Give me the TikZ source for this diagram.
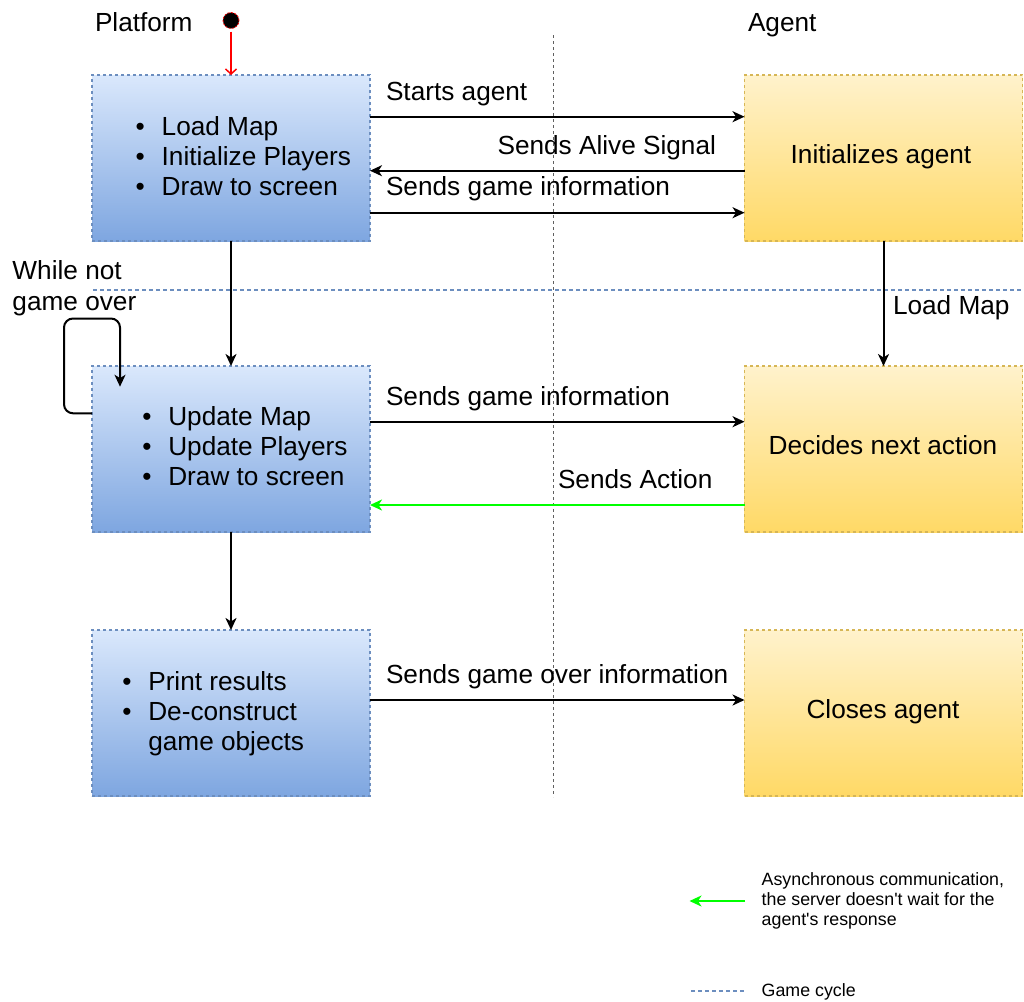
\documentclass[tikz,border=0pt]{standalone}
\usepackage{fontspec}
\setmainfont{Liberation Sans}
\usetikzlibrary{arrows.meta}

\definecolor{bluetop}{HTML}{DAE8FC}
\definecolor{bluebottom}{HTML}{7EA6E0}
\definecolor{blueline}{HTML}{6C8EBF}
\definecolor{yellowtop}{HTML}{FFF2CC}
\definecolor{yellowbottom}{HTML}{FFD966}
\definecolor{yellowline}{HTML}{D6B656}
\definecolor{asyncgreen}{HTML}{00FF00}
\definecolor{dividergray}{HTML}{606060}

\newcommand\mainsize{\fontsize{26.2}{30}\selectfont}
\newcommand\legendsize{\fontsize{17.8}{20}\selectfont}
\newcommand\bul{\makebox[26pt][l]{\textbullet}}
\newcommand\nobul{\makebox[26pt][l]{}}

\begin{document}
\begin{tikzpicture}[x=1pt,y=-1pt,
  every node/.style={inner sep=0pt, outer sep=0pt},
  boxbase/.style={line width=1.5pt, dash pattern=on 3pt off 3pt,
    minimum width=278pt, minimum height=166pt},
  platformbox/.style={boxbase, draw=blueline, top color=bluetop, bottom color=bluebottom},
  agentbox/.style={boxbase, draw=yellowline, top color=yellowtop, bottom color=yellowbottom},
  txt/.style={font=\mainsize, text=black},
  legendtxt/.style={font=\legendsize, text=black},
  tip/.style={-{Stealth[length=12pt,width=11pt,inset=3.5pt]}},
  msg/.style={line width=2pt, black, tip},
  async/.style={line width=2pt, asyncgreen, tip},
  cycleline/.style={line width=1.8pt, blueline, dash pattern=on 4pt off 3pt},
  divider/.style={line width=1.8pt, dividergray, dash pattern=on 3pt off 3pt}
]
\useasboundingbox (0,0) rectangle (1024,1001);

% column titles
\node[txt, anchor=base west] (ttlplatform) at (95,31.7) {Platform};
\node[txt, anchor=base west] (ttlagent) at (748,31.7) {Agent};

% column divider and game-cycle line
\coordinate (divtop) at (553.5,35);
\coordinate (divbot) at (553.5,797);
\draw[divider] (divtop) -- (divbot);
\coordinate (cycleleft) at (93,290);
\coordinate (cycleright) at (1022,290);
\draw[cycleline] (cycleleft) -- (cycleright);

% platform boxes
\node[platformbox] (p1) at (231,158) {};
\node[platformbox] (p2) at (231,449) {};
\node[platformbox] (p3) at (231,713) {};

% agent boxes
\node[agentbox] (a1) at (883.5,158) {};
\node[agentbox] (a2) at (883.5,449) {};
\node[agentbox] (a3) at (883.5,713) {};

% platform box contents
\node[txt, anchor=base west] (p1txt) at (135.7,135) {%
  \begin{tabular}[t]{@{}l@{}}\bul Load Map\\ \bul Initialize Players\\ \bul Draw to screen\end{tabular}};
\node[txt, anchor=base west] (p2txt) at (142.3,425.5) {%
  \begin{tabular}[t]{@{}l@{}}\bul Update Map\\ \bul Update Players\\ \bul Draw to screen\end{tabular}};
\node[txt, anchor=base west] (p3txt) at (122.3,690) {%
  \begin{tabular}[t]{@{}l@{}}\bul Print results\\ \bul De-construct\\ \nobul game objects\end{tabular}};

% agent box contents
\node[txt, anchor=base] (a1txt) at (881,163.3) {Initializes agent};
\node[txt, anchor=base] (a2txt) at (883,454.3) {Decides next action};
\node[txt, anchor=base] (a3txt) at (883,718.3) {Closes agent};

% start marker
\node[circle, fill=black, draw=red, line width=0.8pt, dash pattern=on 2pt off 1.5pt,
      minimum size=16pt] (start) at (231,20.5) {};
\draw[red, line width=1.5pt, -{Straight Barb[length=5pt,width=11pt]}, shorten <=3pt]
  (start.south) -- (p1.north);

% messages between platform and agent
\draw[msg] (p1.east |- 0,116.7) -- (a1.west |- 0,116.7);
\node[txt, anchor=base west] (lblstart) at (386,100.5) {Starts agent};

\draw[msg] (a1.west |- 0,170.7) -- (p1.east |- 0,170.7);
\node[txt, anchor=base east] (lblalive) at (716,154) {Sends Alive Signal};

\draw[msg] (p1.east |- 0,212.7) -- (a1.west |- 0,212.7);
\node[txt, anchor=base west] (lblinfoa) at (386,195.7) {Sends game information};

\draw[msg] (p2.east |- 0,421.7) -- (a2.west |- 0,421.7);
\node[txt, anchor=base west] (lblinfob) at (386,405) {Sends game information};

\draw[async] (a2.west |- 0,505) -- (p2.east |- 0,505);
\node[txt, anchor=base west] (lblaction) at (558,488) {Sends Action};

\draw[msg] (p3.east |- 0,700) -- (a3.west |- 0,700);
\node[txt, anchor=base west] (lblover) at (386,683.3) {Sends game over information};

% flow within each column
\draw[msg] (p1.south) -- (p2.north);
\draw[msg] (p2.south) -- (p3.north);
\draw[msg] (a1.south) -- (a2.north);
\node[txt, anchor=base west] (lblload) at (893,314.3) {Load Map};

% game loop
\coordinate (loopend) at (120,386.7);
\draw[msg, rounded corners=9pt] (p2.west |- 0,413.3) -- (64,413.3) -- (64,318.5)
  -- (120,318.5) -- (loopend);
\node[txt, anchor=base west] (lblloop) at (12.5,279.3) {%
  \begin{tabular}[t]{@{}l@{}}While not\\[0.7pt] game over\end{tabular}};

% legend
\coordinate (legasyncfrom) at (745,901);
\coordinate (legasyncto) at (689.5,901);
\draw[async] (legasyncfrom) -- (legasyncto);
\node[legendtxt, anchor=base west] (legasync) at (761.7,885) {%
  \begin{tabular}[t]{@{}l@{}}Asynchronous communication,\\ the server doesn\textquotesingle t wait for the\\ agent\textquotesingle s response\end{tabular}};
\coordinate (legcyclefrom) at (691,990.7);
\coordinate (legcycleto) at (745,990.7);
\draw[cycleline] (legcyclefrom) -- (legcycleto);
\node[legendtxt, anchor=base west] (legcycle) at (761.7,996.7) {Game cycle};
\end{tikzpicture}
\end{document}
